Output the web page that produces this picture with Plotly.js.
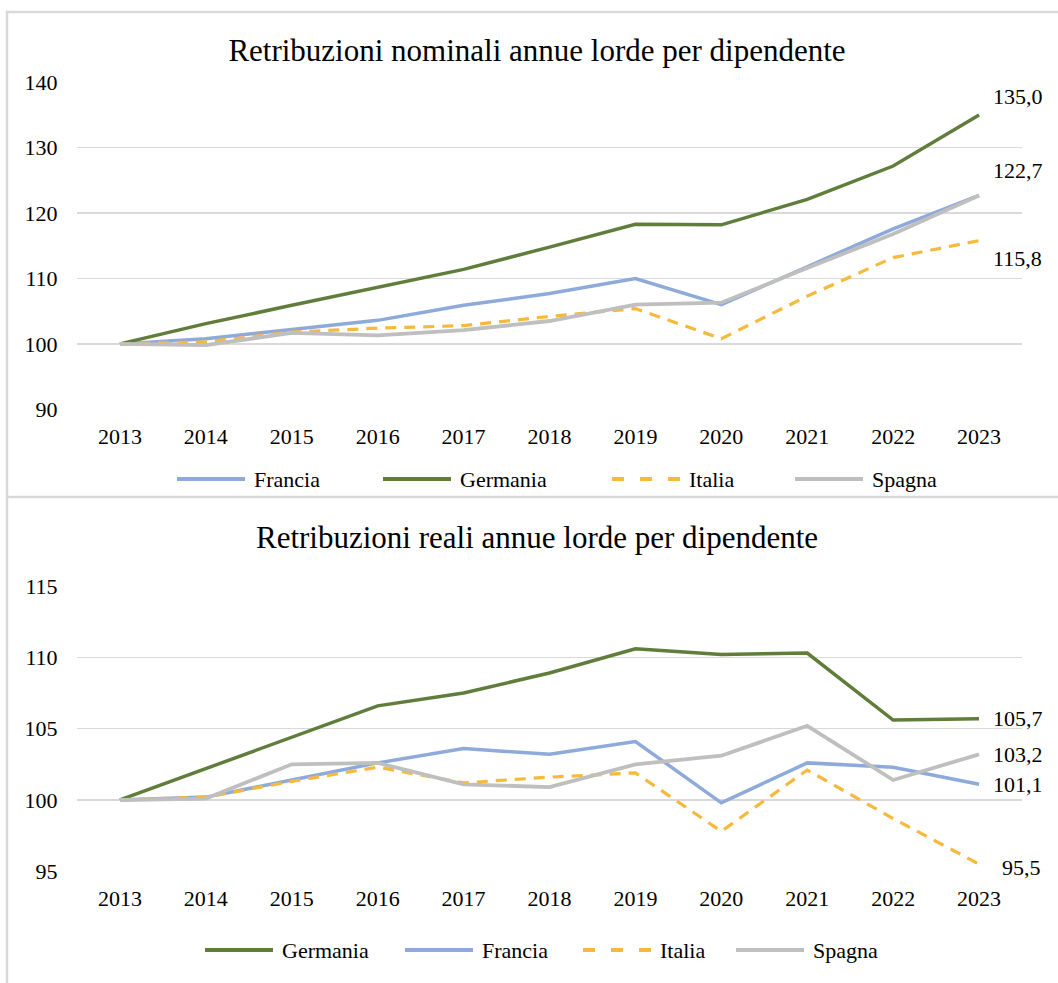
<!DOCTYPE html>
<html>
<head>
<meta charset="utf-8">
<script src="https://cdn.plot.ly/plotly-3.0.1.min.js"></script>
<style>
  html, body { margin: 0; padding: 0; background: #fff; }
  #chart { width: 1058px; height: 983px; }
</style>
</head>
<body>
<div id="chart"></div>
<script>
// ---- Data ----
const years = ['2013','2014','2015','2016','2017','2018','2019','2020','2021','2022','2023'];

// Retribuzioni nominali (2013 = 100)
const nomFrancia  = [100, 100.8, 102.2, 103.6, 105.9, 107.7, 110.0, 106.0, 111.8, 117.6, 122.7];
const nomGermania = [100, 103.1, 105.9, 108.7, 111.4, 114.8, 118.3, 118.2, 122.1, 127.2, 135.0];
const nomItalia   = [100, 100.3, 101.8, 102.4, 102.8, 104.2, 105.4, 100.8, 107.3, 113.2, 115.8];
const nomSpagna   = [100,  99.8, 101.7, 101.3, 102.1, 103.5, 106.0, 106.3, 111.6, 116.8, 122.7];

// Retribuzioni reali (2013 = 100)
const realGermania = [100, 102.2, 104.4, 106.6, 107.5, 108.9, 110.6, 110.2, 110.3, 105.6, 105.7];
const realFrancia  = [100, 100.2, 101.4, 102.6, 103.6, 103.2, 104.1,  99.8, 102.6, 102.3, 101.1];
const realItalia   = [100, 100.2, 101.3, 102.3, 101.2, 101.6, 101.9,  97.8, 102.1,  98.7,  95.5];
const realSpagna   = [100, 100.1, 102.5, 102.6, 101.1, 100.9, 102.5, 103.1, 105.2, 101.4, 103.2];

const titleTop = 'Retribuzioni nominali annue lorde per dipendente';
const titleBottom = 'Retribuzioni reali annue lorde per dipendente';
const legendTop = ['Francia', 'Germania', 'Italia', 'Spagna'];
const legendBottom = ['Germania', 'Francia', 'Italia', 'Spagna'];

// ---- Styles ----
const FONT = '"Liberation Serif", "DejaVu Serif", serif';
const C = { Francia: '#8eaadb', Germania: '#607d3b', Italia: '#f6b93b', Spagna: '#bfbfbf' };
const W = { Francia: 3.5, Germania: 3.5, Italia: 3.2, Spagna: 3.8 };
const DASH = { Francia: 'solid', Germania: 'solid', Italia: '11px,8px', Spagna: 'solid' };
const PW = 1058, PH = 983;

function tr(name, vals, xa, ya) {
  return {
    type: 'scatter', mode: 'lines', name: name, x: years, y: vals,
    xaxis: xa, yaxis: ya, showlegend: false,
    line: { color: C[name], width: W[name], dash: DASH[name] },
    hoverinfo: 'skip'
  };
}

const traces = [
  tr('Francia', nomFrancia, 'x', 'y'),
  tr('Germania', nomGermania, 'x', 'y'),
  tr('Italia', nomItalia, 'x', 'y'),
  tr('Spagna', nomSpagna, 'x', 'y'),
  tr('Germania', realGermania, 'x2', 'y2'),
  tr('Francia', realFrancia, 'x2', 'y2'),
  tr('Italia', realItalia, 'x2', 'y2'),
  tr('Spagna', realSpagna, 'x2', 'y2')
];

const fmt = v => v.toFixed(1).replace('.', ',');
const last = years.length - 1;

function lbl(xa, ya, vals, dx, dy) {
  return {
    xref: xa, yref: ya, x: last, y: vals[last],
    text: fmt(vals[last]), showarrow: false,
    xanchor: 'left', yanchor: 'middle', xshift: dx, yshift: dy,
    font: { family: FONT, size: 22, color: '#000000' }
  };
}

const annotations = [
  lbl('x', 'y', nomGermania, 12, 18),
  lbl('x', 'y', nomFrancia, 12, 25),
  lbl('x', 'y', nomItalia, 12, -18),
  lbl('x2', 'y2', realGermania, 12, 0),
  lbl('x2', 'y2', realSpagna, 12, 0),
  lbl('x2', 'y2', realFrancia, 12, 0),
  lbl('x2', 'y2', realItalia, 21, -3),
  {
    xref: 'paper', yref: 'paper', x: 537 / PW, y: 1 - 537 / PH,
    xanchor: 'center', yanchor: 'middle', showarrow: false,
    text: titleBottom, font: { family: FONT, size: 31, color: '#000000' }
  }
];

const shapes = [
  { type: 'rect', xref: 'paper', yref: 'paper', x0: 7 / PW, x1: 1.02, y0: -0.02, y1: 1 - 12 / PH,
    line: { color: '#d9d9d9', width: 2.5 }, fillcolor: 'rgba(0,0,0,0)', layer: 'below' },
  { type: 'line', xref: 'paper', yref: 'paper', x0: 7 / PW, x1: 1.02, y0: 1 - 497 / PH, y1: 1 - 497 / PH,
    line: { color: '#d9d9d9', width: 2.5 }, layer: 'below' }
];

// Custom legends (line swatch + text), laid out in paper space
function addLegend(names, starts, yPx) {
  names.forEach((n, i) => {
    const x0 = starts[i];
    shapes.push({
      type: 'line', xref: 'paper', yref: 'paper',
      x0: x0 / PW, x1: (x0 + 68) / PW, y0: 1 - yPx / PH, y1: 1 - yPx / PH,
      line: { color: C[n], width: 4, dash: n === 'Italia' ? '12px,16px' : 'solid' }
    });
    annotations.push({
      xref: 'paper', yref: 'paper', x: (x0 + 75) / PW, y: 1 - yPx / PH,
      xanchor: 'left', yanchor: 'middle', showarrow: false, text: n,
      font: { family: FONT, size: 22, color: '#000000' }
    });
  });
}
addLegend(legendTop, [177, 383, 612, 795], 479);
addLegend(legendBottom, [205, 405, 583, 736], 950);

function xax(anchor) {
  return {
    type: 'category', range: [-0.5, 10.5], anchor: anchor,
    domain: [77 / PW, 1022 / PW],
    showgrid: false, showline: false, zeroline: false,
    ticks: 'outside', ticklen: 7, tickcolor: 'rgba(0,0,0,0)',
    tickfont: { family: FONT, size: 22, color: '#000000' }, fixedrange: true
  };
}
function yax(anchor, range, dtick, top, bottom) {
  return {
    anchor: anchor, range: range, dtick: dtick,
    domain: [1 - bottom / PH, 1 - top / PH],
    showgrid: true, gridcolor: '#d9d9d9', gridwidth: 1.5,
    showline: false, zeroline: false,
    ticks: 'outside', ticklen: 14, tickcolor: 'rgba(0,0,0,0)',
    tickfont: { family: FONT, size: 22, color: '#000000' }, fixedrange: true
  };
}

const layout = {
  width: PW, height: PH,
  margin: { l: 0, r: 0, t: 0, b: 0 },
  paper_bgcolor: '#fff', plot_bgcolor: '#fff',
  font: { family: FONT, size: 22, color: '#000000' },
  showlegend: false,
  title: {
    text: titleTop, x: 537 / PW, xanchor: 'center',
    y: 1 - 50 / PH, yanchor: 'middle', yref: 'container',
    font: { family: FONT, size: 31, color: '#000000' }
  },
  xaxis: xax('y'),
  yaxis: yax('x', [90, 140], 10, 82.3, 409.3),
  xaxis2: xax('y2'),
  yaxis2: yax('x2', [95, 115], 5, 586, 871.3),
  annotations: annotations,
  shapes: shapes,
  hovermode: false
};

Plotly.newPlot('chart', traces, layout, { staticPlot: true, displayModeBar: false });
</script>
</body>
</html>
